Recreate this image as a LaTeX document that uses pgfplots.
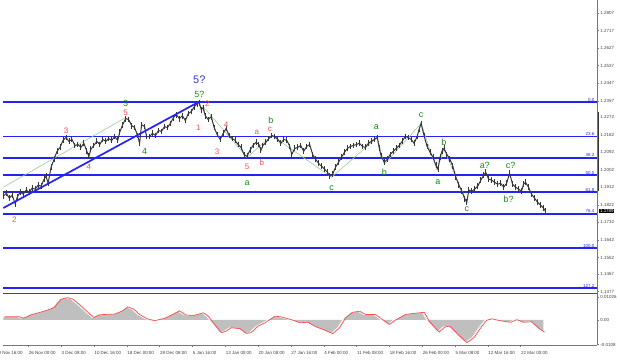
\documentclass[border=0pt]{standalone}
\usepackage{fontspec}
\setmainfont{Liberation Sans}
\usepackage{pgfplots}
\usepackage{pgfplotstable}
\pgfplotsset{compat=1.18}
\usepgfplotslibrary{fillbetween}
\definecolor{fibblue}{RGB}{35,35,245}
\definecolor{wred}{RGB}{250,80,80}
\definecolor{wgreen}{RGB}{20,140,20}
\definecolor{wblue}{RGB}{50,50,215}
\definecolor{wline}{RGB}{150,205,150}
\definecolor{candle}{RGB}{55,55,55}
\definecolor{axgray}{RGB}{120,120,120}

\pgfplotstableread{
x p
0 1.1867
3 1.1882
6 1.1857
9 1.1872
12 1.1826
14 1.1862
17 1.1887
20 1.1877
23 1.1898
26 1.1887
29 1.1908
32 1.1903
35 1.1923
38 1.1918
41 1.1954
43 1.1969
45 1.1933
48 1.2015
51 1.2056
54 1.2097
57 1.2117
60 1.2153
63 1.2168
66 1.2148
69 1.2158
72 1.2127
75 1.2132
78 1.2117
81 1.2138
84 1.2097
86 1.2071
88 1.2107
91 1.2127
94 1.2148
97 1.2132
100 1.2158
103 1.2148
106 1.2163
109 1.2153
112 1.2173
115 1.2153
117 1.2194
120 1.2234
123 1.2265
126 1.2260
129 1.2229
132 1.2219
135 1.2178
137 1.2138
139 1.2234
142 1.2224
144 1.2173
147 1.2173
150 1.2189
153 1.2178
156 1.2204
159 1.2199
162 1.2224
165 1.2219
168 1.2240
171 1.2270
174 1.2285
177 1.2265
180 1.2280
183 1.2255
186 1.2291
189 1.2301
192 1.2326
195 1.2342
197 1.2347
199 1.2311
201 1.2321
203 1.2280
206 1.2260
209 1.2275
212 1.2219
215 1.2183
218 1.2158
221 1.2189
224 1.2214
227 1.2178
230 1.2163
233 1.2153
236 1.2132
239 1.2117
242 1.2081
245 1.2071
248 1.2102
251 1.2127
254 1.2143
257 1.2132
259 1.2102
261 1.2127
264 1.2143
267 1.2163
270 1.2178
273 1.2173
276 1.2158
279 1.2138
282 1.2158
285 1.2153
288 1.2122
290 1.2081
293 1.2112
296 1.2117
299 1.2127
302 1.2097
305 1.2122
308 1.2132
311 1.2081
314 1.2056
317 1.2035
320 1.2020
323 1.2005
326 1.1989
328 1.1969
331 1.1979
334 1.2015
337 1.2041
340 1.2066
343 1.2092
346 1.2112
349 1.2122
352 1.2127
355 1.2132
358 1.2138
361 1.2122
364 1.2117
367 1.2138
370 1.2148
373 1.2158
376 1.2168
378 1.2112
380 1.2071
383 1.2041
386 1.2056
389 1.2081
392 1.2097
395 1.2112
398 1.2127
401 1.2148
404 1.2173
407 1.2168
410 1.2158
413 1.2138
416 1.2173
418 1.2209
420 1.2240
423 1.2178
426 1.2122
429 1.2092
432 1.2066
435 1.2025
437 1.2005
439 1.2066
441 1.2097
443 1.2112
446 1.2081
449 1.2056
452 1.2020
455 1.1964
458 1.1923
461 1.1892
464 1.1852
466 1.1836
468 1.1898
471 1.1892
474 1.1903
477 1.1918
480 1.1949
483 1.1974
485 1.1989
488 1.1954
491 1.1949
494 1.1938
497 1.1928
500 1.1933
503 1.1913
506 1.1933
509 1.1984
512 1.1928
515 1.1913
518 1.1903
521 1.1892
523 1.1928
525 1.1938
528 1.1913
531 1.1877
534 1.1857
537 1.1836
540 1.1821
543 1.1806
545 1.1790
}\price

\pgfplotstableread{
x v
0 0.00145
15 0.00145
19 0.00075
27 0.00233
38 0.00364
46 0.00478
50 0.00553
57 0.00917
63 0.00987
69 0.00917
77 0.00623
84 0.00333
90 0.00114
96 0.00233
111 0.00263
119 0.00408
124 0.00579
130 0.00478
136 0.00233
144 0.00044
151 -0.00031
161 0.00075
170 0.00263
176 0.00408
182 0.00233
188 0.00189
190 0.00197
200 0.00316
205 0.00167
210 -0.00123
218 -0.00562
223 -0.00491
228 -0.00342
237 -0.00386
243 -0.00592
248 -0.00562
255 -0.00272
262 -0.00123
272 0.00167
278 0.00140
290 -0.00009
297 -0.00123
305 -0.00097
313 -0.00298
322 -0.00448
330 -0.00606
337 -0.00342
343 0.00097
350 0.00342
357 0.00386
363 0.00241
373 0.00241
380 0.00022
387 -0.00197
393 -0.00009
403 0.00241
410 0.00285
417 0.00316
422 0.00342
427 -0.00053
437 -0.00535
443 -0.00298
448 -0.00272
457 -0.00680
465 -0.01000
472 -0.00781
480 -0.00272
485 -0.00009
490 0.00053
498 -0.00031
509 -0.00101
515 0.00013
522 -0.00101
530 -0.00075
538 -0.00391
543 -0.00535
}\osc

\pgfplotstableread{
y
1.2350
1.2173
1.2064
1.1975
1.1887
1.1777
1.1600
1.1396
}\fibs

\begin{document}
\begin{tikzpicture}
% ---------------- main price window ----------------
\begin{axis}[name=main, at={(0pt,0pt)}, anchor=south west, scale only axis,
  width=597pt, height=294pt,
  xmin=0, xmax=597, ymin=1.13717, ymax=1.28726,
  hide x axis, axis y line*=right,
  y axis line style={axgray},
  ytick={1.2807,1.2717,1.2627,1.2537,1.2447,1.2357,1.2272,1.2182,1.2092,1.2002,1.1912,1.1822,1.1732,1.1642,1.1552,1.1467,1.1377},
  yticklabels={1.2807,1.2717,1.2627,1.2537,1.2447,1.2357,1.2272,1.2182,1.2092,1.2002,1.1912,1.1822,1.1732,1.1642,1.1552,1.1467,1.1377},
  yticklabel style={font=\fontsize{4.5}{5}\selectfont, text=black!75, inner sep=1pt},
  scaled y ticks=false,
  major tick length=2pt, tick align=outside, tick style={axgray},
  clip=false]
% Fibonacci levels
\addplot[draw=fibblue, line width=1.7pt] coordinates {(0,1.2350)(597,1.2350)};
\addplot[draw=fibblue, line width=1.7pt] coordinates {(0,1.2173)(597,1.2173)};
\addplot[draw=fibblue, line width=1.7pt] coordinates {(0,1.2064)(597,1.2064)};
\addplot[draw=fibblue, line width=1.7pt] coordinates {(0,1.1975)(597,1.1975)};
\addplot[draw=fibblue, line width=1.7pt] coordinates {(0,1.1887)(597,1.1887)};
\addplot[draw=fibblue, line width=1.7pt] coordinates {(0,1.1777)(597,1.1777)};
\addplot[draw=fibblue, line width=1.7pt] coordinates {(0,1.1600)(597,1.1600)};
\addplot[draw=fibblue, line width=1.7pt] coordinates {(0,1.1396)(597,1.1396)};
\begin{scope}[every node/.style={anchor=south east, font=\fontsize{4.5}{5}\selectfont, text=fibblue, inner sep=0.6pt}]
\node at (axis cs:595,1.2350) {0.0};
\node at (axis cs:595,1.2173) {23.6};
\node at (axis cs:595,1.2064) {38.2};
\node at (axis cs:595,1.1975) {50.0};
\node at (axis cs:595,1.1887) {61.8};
\node at (axis cs:595,1.1777) {76.4};
\node at (axis cs:595,1.1600) {100.0};
\node at (axis cs:595,1.1396) {127.2};
\end{scope}
% wave connector lines
\addplot[draw=wline, line width=0.6pt] coordinates {(0,1.1913)(123,1.2270)};
\addplot[draw=wline, line width=0.6pt] coordinates {(200,1.2332)(245,1.2066)(270,1.2178)(330,1.1964)(376,1.2168)(383,1.2030)(420,1.2240)(436,1.2000)(443,1.2107)(466,1.1836)};
% price bars
\addplot[draw=candle, line width=1pt, error bars/.cd, y dir=both, y fixed=0.0015,
  error mark=none, error bar style={draw=candle, line width=0.9pt}] table[x=x, y=p] {\price};
% trend line
\addplot[draw=fibblue, line width=1.7pt] coordinates {(0,1.1806)(197,1.2352)};
% dark marker on price scale
\draw[black!80, line width=1.5pt] (axis cs:598.5,1.2301) -- (axis cs:598.5,1.1892);
% current price
\node[fill=black, text=white, font=\fontsize{4.5}{5}\selectfont, inner sep=0.7pt, anchor=west] at (axis cs:599,1.1790) {1.1789};
% wave labels
\begin{scope}[every node/.style={font=\fontsize{8}{8}\selectfont, text=wred, inner sep=0pt}]
\node at (axis cs:11,1.1744) {2};
\node at (axis cs:63,1.2204) {3};
\node at (axis cs:86,1.2020) {4};
\node at (axis cs:123,1.2296) {5};
\node at (axis cs:196,1.2219) {1};
\node at (axis cs:205,1.2342) {2};
\node at (axis cs:215,1.2097) {3};
\node at (axis cs:224,1.2234) {4};
\node at (axis cs:245,1.2020) {5};
\node at (axis cs:255,1.2194) {a};
\node at (axis cs:260,1.2041) {b};
\node at (axis cs:268,1.2209) {c};
\end{scope}
\begin{scope}[every node/.style={font=\fontsize{9}{9}\selectfont, text=wgreen, inner sep=0pt}]
\node at (axis cs:123,1.2342) {3};
\node at (axis cs:142,1.2097) {4};
\node at (axis cs:197,1.2388) {5?};
\node at (axis cs:245,1.1933) {a};
\node at (axis cs:269,1.2255) {b};
\node at (axis cs:330,1.1908) {c};
\node at (axis cs:375,1.2219) {a};
\node at (axis cs:383,1.1990) {b};
\node at (axis cs:420,1.2285) {c};
\node at (axis cs:437,1.1938) {a};
\node at (axis cs:443,1.2143) {b};
\node at (axis cs:466,1.1801) {c};
\node at (axis cs:484,1.2025) {a?};
\node at (axis cs:510,1.2025) {c?};
\node at (axis cs:508,1.1852) {b?};
\end{scope}
\node[font=\fontsize{11}{11}\selectfont, text=wblue, inner sep=0pt] at (axis cs:197,1.2464) {5?};
\end{axis}
% fixed page frame: 620 x 361, main window occupies the top 294
\path ([yshift=-67pt]main.south west) rectangle ++(620pt,361pt);
% separator
\draw[black!70, line width=1pt] ([yshift=-0.5pt]main.south west) -- ([yshift=-0.5pt]main.south east);
% ---------------- oscillator window ----------------
\begin{axis}[at={([yshift=-1pt]main.south west)}, anchor=north west, scale only axis,
  width=597pt, height=53pt,
  xmin=0, xmax=597, ymin=-0.01119, ymax=0.01207,
  axis x line*=bottom, axis y line*=right,
  axis line style={axgray},
  xtick={25,58,91,124,157,190,223,256,289,322,355,388,421,454,487,520},
  xticklabels={26 Nov 00:00,3 Dec 08:00,10 Dec 16:00,18 Dec 00:00,28 Dec 08:00,5 Jan 16:00,13 Jan 00:00,20 Jan 08:00,27 Jan 16:00,4 Feb 00:00,11 Feb 08:00,18 Feb 16:00,26 Feb 00:00,5 Mar 08:00,12 Mar 16:00,22 Mar 00:00},
  xticklabel style={anchor=north west, font=\fontsize{4.5}{5}\selectfont, text=black!75, inner sep=0.5pt, yshift=-3pt},
  ytick={0.01026,0,-0.0108},
  yticklabels={0.01026,0.00,-0.0108},
  scaled y ticks=false, scaled x ticks=false,
  yticklabel style={font=\fontsize{4.5}{5}\selectfont, text=black!75, inner sep=1pt},
  major tick length=2pt, tick align=outside, tick style={axgray},
  clip=false]
\addplot[name path=osc, draw=none] table[x=x, y=v] {\osc};
\addplot[name path=zero, draw=none] coordinates {(0,0)(543,0)};
\addplot[fill=black!25, draw=none] fill between[of=osc and zero];
\addplot[draw=white, line width=0.6pt, xshift=-0.8pt] table[x=x, y=v] {\osc};
\addplot[draw=wred, line width=0.7pt, xshift=1.2pt] table[x=x, y=v] {\osc};
\node[overlay, anchor=north west, font=\fontsize{4.5}{5}\selectfont, text=black!75, inner sep=0.5pt, yshift=-5pt] at (axis cs:-8,-0.01119) {19 Nov 16:00};
\end{axis}
\end{tikzpicture}
\end{document}
